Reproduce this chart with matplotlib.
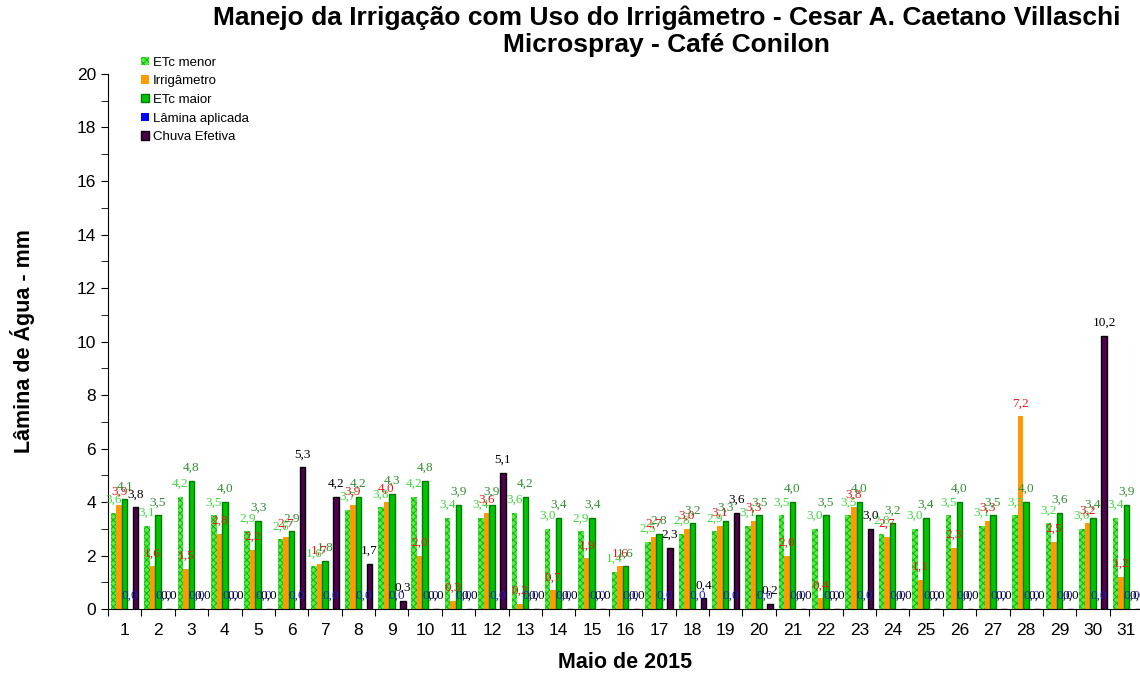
import matplotlib
matplotlib.use("Agg")
import matplotlib.pyplot as plt
import numpy as np

# dados (mm), maio de 2015
dias = list(range(1, 32))
etc_menor = [3.6, 3.1, 4.2, 3.5, 2.9, 2.6, 1.6, 3.7, 3.8, 4.2, 3.4, 3.4, 3.6, 3.0, 2.9, 1.4,
             2.5, 2.8, 2.9, 3.1, 3.5, 3.0, 3.5, 2.8, 3.0, 3.5, 3.1, 3.5, 3.2, 3.0, 3.4]
irrigametro = [3.9, 1.6, 1.5, 2.8, 2.2, 2.7, 1.7, 3.9, 4.0, 2.0, 0.3, 3.6, 0.2, 0.7, 1.9, 1.6,
               2.7, 3.0, 3.1, 3.3, 2.0, 0.4, 3.8, 2.7, 1.1, 2.3, 3.3, 7.2, 2.5, 3.2, 1.2]
etc_maior = [4.1, 3.5, 4.8, 4.0, 3.3, 2.9, 1.8, 4.2, 4.3, 4.8, 3.9, 3.9, 4.2, 3.4, 3.4, 1.6,
             2.8, 3.2, 3.3, 3.5, 4.0, 3.5, 4.0, 3.2, 3.4, 4.0, 3.5, 4.0, 3.6, 3.4, 3.9]
lamina = [0.0] * 31
chuva = [3.8, 0.0, 0.0, 0.0, 0.0, 5.3, 4.2, 1.7, 0.3, 0.0, 0.0, 5.1, 0.0, 0.0, 0.0, 0.0,
         2.3, 0.4, 3.6, 0.2, 0.0, 0.0, 3.0, 0.0, 0.0, 0.0, 0.0, 0.0, 0.0, 10.2, 0.0]

plt.rcParams['font.family'] = ['Liberation Sans', 'DejaVu Sans']
plt.rcParams['hatch.linewidth'] = 0.7

fig = plt.figure(figsize=(11.4, 6.77), dpi=100)
ax = fig.add_axes([0.0947, 0.1004, 0.908, 0.7903])

x = np.array(dias, dtype=float)
w = 0.165

series = [
    # (valores, rotulo, estilo da barra, cor do rotulo)
    (etc_menor, 'ETc menor', dict(color='#55ee44', edgecolor='#11b511', hatch='xxxxx', linewidth=0), '#3fd63f'),
    (irrigametro, 'Irrigâmetro', dict(color='#ff9a00', linewidth=0), '#e81818'),
    (etc_maior, 'ETc maior', dict(color='#00c400', edgecolor='#007d00', linewidth=1.0), '#2f8f2f'),
    (lamina, 'Lâmina aplicada', dict(color='#0000ff', linewidth=0), '#1c1cc8'),
    (chuva, 'Chuva Efetiva', dict(color='#50004e', edgecolor='black', linewidth=1.0), 'black'),
]

handles = []
for i, (vals, name, style, lcol) in enumerate(series):
    pos = x + (i - 2) * w
    b = ax.bar(pos, vals, width=w, label=name, **style)
    handles.append(b)
    for px, v in zip(pos, vals):
        ax.annotate(f"{v:.1f}".replace('.', ','), (px, v), xytext=(0, 5),
                    textcoords='offset points', ha='center', va='bottom',
                    fontsize=9.5, color=lcol, family='Liberation Serif')

ax.set_xlim(0.5, 31.5)
ax.set_ylim(0, 20)
ax.set_yticks(range(0, 21, 2))
ax.set_yticks(range(0, 21, 1), minor=True)
ax.tick_params(axis='y', which='both', length=5, direction='out', labelsize=12.5)
ax.set_xticks(np.arange(0.5, 32, 1))
ax.set_xticklabels([])
ax.tick_params(axis='x', which='major', length=5, direction='out')
ax.set_xticks(x, minor=True)
ax.set_xticklabels([str(d) for d in dias], minor=True)
ax.tick_params(axis='x', which='minor', length=0, labelsize=12.5, pad=10)
for s in ['top', 'right']:
    ax.spines[s].set_visible(False)

ax.set_ylabel('Lâmina de Água - mm', fontsize=15.5, fontweight='bold', labelpad=30)
ax.set_xlabel('Maio de 2015', fontsize=15.5, fontweight='bold', labelpad=10)

fig.text(0.585, 0.974, 'Manejo da Irrigação com Uso do Irrigâmetro - Cesar A. Caetano Villaschi',
         ha='center', va='center', fontsize=19, fontweight='bold')
fig.text(0.585, 0.933, 'Microspray - Café Conilon',
         ha='center', va='center', fontsize=19, fontweight='bold')

fig.legend(handles=handles, loc='upper left', bbox_to_anchor=(0.119, 0.924),
           frameon=False, fontsize=9.5, handlelength=0.6, handleheight=0.6,
           handletextpad=0.3, labelspacing=0.5, borderaxespad=0)

fig.savefig('out.png', dpi=100)
